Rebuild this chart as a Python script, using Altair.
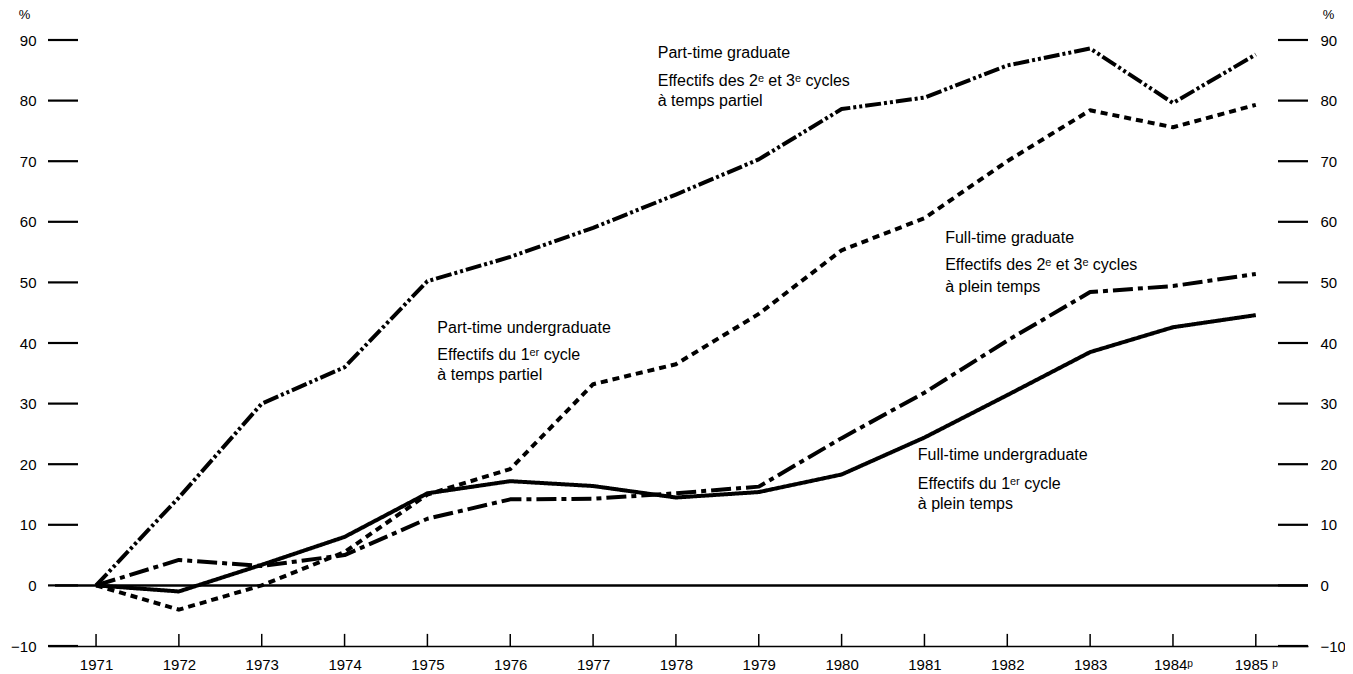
import altair as alt
import pandas as pd

# ---------------- data ----------------
years = list(range(1971, 1986))
series_names = [
    "Part-time graduate",
    "Part-time undergraduate",
    "Full-time graduate",
    "Full-time undergraduate",
]
pt_grad = [0, 14.5, 30, 36, 50.2, 54.2, 59, 64.5, 70.3, 78.6, 80.5, 85.8, 88.6, 79.6, 87.6]
pt_under = [0, -4, 0, 5.5, 15, 19.2, 33.2, 36.5, 44.8, 55.3, 60.6, 70, 78.4, 75.6, 79.3]
ft_grad = [0, 4.2, 3.2, 5, 11, 14.2, 14.3, 15.2, 16.3, 24.3, 31.8, 40.4, 48.4, 49.4, 51.4]
ft_under = [0, -1, 3.4, 8, 15.2, 17.2, 16.4, 14.5, 15.4, 18.3, 24.4, 31.4, 38.5, 42.6, 44.6]

y_ticks = [-10, 0, 10, 20, 30, 40, 50, 60, 70, 80, 90]

# annotation text (x in years, y in %)
ann_x = [1977.78, 1977.78, 1977.78,
         1975.12, 1975.12, 1975.12,
         1981.25, 1981.25, 1981.25,
         1980.92, 1980.92, 1980.92]
ann_y = [87.8, 83.3, 79.9,
         42.4, 38.1, 34.7,
         57.4, 52.8, 49.2,
         21.5, 16.7, 13.5]
ann_text = [
    "Part-time graduate", "Effectifs des 2ᵉ et 3ᵉ cycles", "à temps partiel",
    "Part-time undergraduate", "Effectifs du 1ᵉʳ cycle", "à temps partiel",
    "Full-time graduate", "Effectifs des 2ᵉ et 3ᵉ cycles", "à plein temps",
    "Full-time undergraduate", "Effectifs du 1ᵉʳ cycle", "à plein temps",
]

# ---------------- tables ----------------
rows = []
for name, vals in zip(series_names, [pt_grad, pt_under, ft_grad, ft_under]):
    for yr, v in zip(years, vals):
        rows.append({"year": yr, "value": v, "series": name})
df = pd.DataFrame(rows)
df_yt = pd.DataFrame({"v": y_ticks})
df_xt = pd.DataFrame({"year": years, "lo": [-10] * len(years), "hi": [-8] * len(years)})
df_ann = pd.DataFrame({"x": ann_x, "y": ann_y, "t": ann_text})
df_zero = pd.DataFrame({"v": [0]})

FONT = "Liberation Sans"
W, H = 1260, 606

xs = alt.Scale(domain=[1970.42, 1985.63], nice=False, zero=False)
ys = alt.Scale(domain=[-10, 90], nice=False, zero=False)

label_expr = ("datum.value == 1984 ? '1984ᵖ' : datum.value == 1985 ? '1985 ᵖ' : "
              "'' + datum.value")

x_axis = alt.Axis(values=years, labelExpr=label_expr, grid=False, ticks=False,
                  domain=True, domainColor="black", domainWidth=1.5, title=None,
                  labelFont=FONT, labelFontSize=15, labelColor="black",
                  labelPadding=11, labelFlush=False, labelOverlap=False)


def y_axis(orient, tx):
    return alt.Axis(
        orient=orient, values=y_ticks, grid=False, ticks=False, domain=False,
        title="%", titleAngle=0, titleX=tx, titleY=-19, titleAlign="center",
        titleBaseline="bottom",
        titleFont=FONT, titleFontSize=13, titleFontWeight="normal", titleColor="black",
        labelFont=FONT, labelFontSize=15, labelColor="black", labelPadding=12,
        labelFlush=False)


lines = alt.Chart(df).mark_line(color="black", strokeWidth=4, strokeCap="butt",
                                strokeJoin="round").encode(
    x=alt.X("year:Q", scale=xs, axis=x_axis),
    y=alt.Y("value:Q", scale=ys, axis=None),
    strokeDash=alt.StrokeDash(
        "series:N",
        scale=alt.Scale(domain=series_names,
                        range=[[16, 3, 3, 3, 3, 3], [7, 5], [20, 5, 5, 5], [1, 0]]),
        legend=None),
    detail="series:N",
)

left_ticks = alt.Chart(df_yt).mark_rule(color="black", strokeWidth=2.2).encode(
    x=alt.value(0), x2=alt.value(30),
    y=alt.Y("v:Q", scale=ys, axis=y_axis("left", -24)),
)

right_ticks = alt.Chart(df_yt).mark_rule(color="black", strokeWidth=2.2).encode(
    x=alt.value(W - 30), x2=alt.value(W),
    y=alt.Y("v:Q", scale=ys, axis=y_axis("right", 20)),
)

zero_line = alt.Chart(df_zero).mark_rule(color="black", strokeWidth=2.5).encode(
    x=alt.value(7), x2=alt.value(W),
    y=alt.Y("v:Q", scale=ys, axis=None),
)

x_ticks = alt.Chart(df_xt).mark_rule(color="black", strokeWidth=1.5).encode(
    x=alt.X("year:Q", scale=xs),
    y=alt.Y("lo:Q", scale=ys, axis=None),
    y2="hi:Q",
)

texts = alt.Chart(df_ann).mark_text(align="left", baseline="middle", font=FONT,
                                     fontSize=16, color="black").encode(
    x=alt.X("x:Q", scale=xs),
    y=alt.Y("y:Q", scale=ys, axis=None),
    text="t:N",
)

chart = alt.layer(zero_line, x_ticks, lines, texts, left_ticks, right_ticks).resolve_scale(
    y="independent"
).properties(
    width=W, height=H,
    autosize=alt.AutoSizeParams(type="none"),
    padding={"left": 40, "top": 32, "right": 37, "bottom": 26},
    background="white",
).configure_view(stroke=None)

chart.save("out.html", embed_options={"renderer": "svg", "actions": False})
